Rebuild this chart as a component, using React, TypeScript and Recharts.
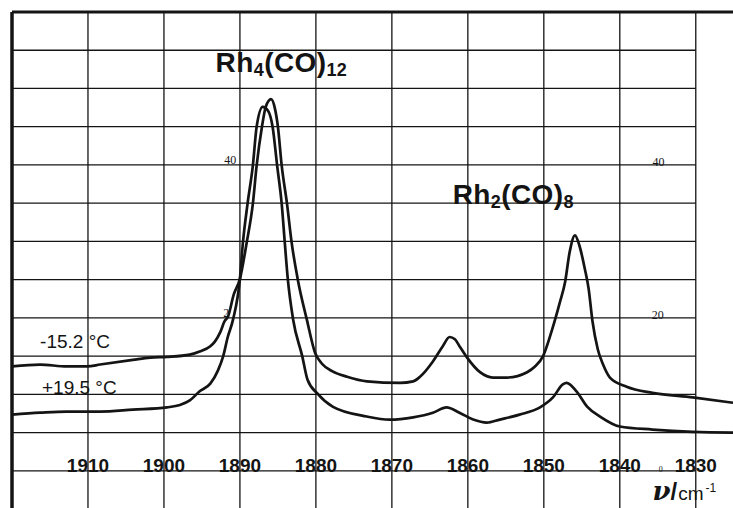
import { LineChart, Line, XAxis, YAxis, ReferenceLine, ReferenceDot } from "recharts";

// wavenumbers (cm-1) and absorbance-like scale readings, -15.2 °C trace
const coldWn = [
  1920, 1916.3, 1912.8, 1910.1, 1908.4, 1904.1, 1901.8, 1899.6, 1896.6, 1895.3, 1893.9, 1893.3, 1892.6,
  1892.0, 1891.6, 1890.8, 1890.0, 1889.1, 1888.3, 1887.8, 1887.1, 1886.6, 1885.9, 1885.4, 1885.0, 1884.5,
  1883.8, 1883.2, 1882.4, 1881.2, 1880.1, 1879.2, 1877.8, 1875.9, 1873.3, 1868.9, 1867.2, 1866.3, 1864.6,
  1863.3, 1862.4, 1861.7, 1861.1, 1860.1, 1858.4, 1856.7, 1854.9, 1852.2, 1851.2, 1850.1, 1848.9, 1847.9,
  1847.2, 1846.6, 1845.9, 1845.3, 1844.6, 1844.1, 1843.6, 1842.9, 1842.2, 1841.3, 1839.1, 1835.7, 1830.4,
  1825.1,
];
const coldVal = [
  13.65, 13.9, 13.65, 13.65, 13.9, 14.5, 14.8, 14.9, 15.2, 15.6, 16.3, 16.9, 18.1,
  19.6, 20.1, 23.1, 25.1, 29.9, 34.9, 39.9, 45.0, 47.6, 48.6, 47.4, 45.0, 39.9,
  34.9, 29.9, 25.1, 19.8, 15.4, 14.0, 13.0, 12.3, 11.7, 11.5, 11.7, 12.3, 14.3,
  16.3, 17.5, 17.2, 16.3, 14.8, 12.9, 12.2, 12.2, 12.9, 13.6, 15.0, 18.5, 22.0,
  24.7, 28.6, 30.8, 29.4, 26.4, 23.8, 19.6, 15.9, 13.9, 12.2, 11.0, 10.2, 9.6,
  8.9,
];

// +19.5 °C trace
const warmWn = [
  1920, 1916.3, 1912.8, 1908.4, 1904.1, 1899.6, 1897.9, 1896.6, 1895.3, 1893.9, 1892.9, 1892.2, 1891.6,
  1890.9, 1890.0, 1889.6, 1889.0, 1888.3, 1887.8, 1887.0, 1886.3, 1885.7, 1885.1, 1884.5, 1884.1, 1883.7,
  1883.0, 1881.8, 1881.1, 1879.7, 1877.8, 1873.3, 1870.3, 1867.2, 1864.6, 1862.8, 1861.1, 1859.3, 1857.5,
  1855.8, 1853.2, 1850.5, 1848.8, 1847.5, 1847.0, 1845.7, 1844.3, 1842.6, 1840.0, 1835.7, 1830.4, 1825.1,
];
const warmVal = [
  7.35, 7.6, 7.75, 7.75, 8.0, 8.3, 8.6, 9.2, 10.4, 11.4, 13.1, 15.0, 17.5,
  19.8, 25.1, 29.9, 34.9, 39.9, 45.0, 47.6, 47.1, 45.0, 39.9, 34.9, 29.9, 25.1,
  19.8, 15.0, 11.9, 10.0, 8.4, 7.1, 6.7, 7.0, 7.6, 8.3, 7.6, 6.7, 6.3,
  6.7, 7.35, 8.3, 9.6, 11.3, 11.5, 10.4, 8.4, 7.1, 5.8, 5.4, 5.1, 5.0,
];

const xTicks = [1910, 1900, 1890, 1880, 1870, 1860, 1850, 1840, 1830];
const yGrid = [0, 5, 10, 15, 20, 25, 30, 35, 40, 45, 50, 55];

const coldData = coldWn.map((wn, i) => ({ wn, v: coldVal[i] }));
const warmData = warmWn.map((wn, i) => ({ wn, v: warmVal[i] }));

const ink = "#141414";
const sans = "'Liberation Sans', Arial, Helvetica, sans-serif";

const Formula = ({ cx, cy, base, sub1, mid, sub2 }: any) => (
  <text x={cx} y={cy} fontFamily={sans} fontWeight="bold" fontSize={28} letterSpacing={0.4} fill={ink}>
    <tspan>{base}</tspan>
    <tspan fontSize={18} dy={4}>{sub1}</tspan>
    <tspan dy={-4}>{mid}</tspan>
    <tspan fontSize={18} dy={4}>{sub2}</tspan>
  </text>
);

const Small = ({ cx, cy, text, anchor = "start", size = 12 }: any) => (
  <text x={cx} y={cy} textAnchor={anchor} fontFamily="'Liberation Serif', serif" fontSize={size} fill={ink}>
    {text}
  </text>
);

export default function App() {
  return (
    <div style={{ position: "absolute", left: 0, top: 0, width: 733, height: 508, background: "#fff" }}>
      <LineChart width={733} height={508} margin={{ top: 12, right: 0, bottom: 0, left: 12 }}>
        <XAxis
          dataKey="wn"
          type="number"
          scale="linear"
          domain={[1825.1, 1920]}
          reversed
          allowDataOverflow
          hide
        />
        <YAxis type="number" scale="linear" domain={[-4.86, 60]} allowDataOverflow hide />

        {yGrid.map((v) => (
          <ReferenceLine
            key={`h${v}`}
            segment={[{ x: 1920, y: v }, { x: 1830, y: v }]}
            stroke={ink}
            strokeWidth={1.3}
          />
        ))}
        {xTicks.map((t) => (
          <ReferenceLine key={`v${t}`} x={t} stroke={ink} strokeWidth={1.3} />
        ))}
        <ReferenceLine y={60} stroke={ink} strokeWidth={3} />
        <ReferenceLine x={1920} stroke={ink} strokeWidth={3.5} />

        <Line data={coldData} dataKey="v" type="monotone" stroke={ink} strokeWidth={2.7} dot={false} isAnimationActive={false} />
        <Line data={warmData} dataKey="v" type="monotone" stroke={ink} strokeWidth={2.7} dot={false} isAnimationActive={false} />

        {xTicks.map((t) => (
          <ReferenceDot
            key={`l${t}`}
            x={t}
            y={0}
            r={0}
            shape={(p: any) => (
              <text x={p.cx} y={p.cy + 1} textAnchor="middle" fontFamily={sans} fontWeight="bold" fontSize={19} fill={ink}>
                {t}
              </text>
            )}
          />
        ))}

        <ReferenceDot x={1893.2} y={52.2} r={0} shape={(p: any) => <Formula cx={p.cx} cy={p.cy} base="Rh" sub1="4" mid="(CO)" sub2="12" />} />
        <ReferenceDot x={1862.0} y={34.9} r={0} shape={(p: any) => <Formula cx={p.cx} cy={p.cy} base="Rh" sub1="2" mid="(CO)" sub2="8" />} />

        <ReferenceDot
          x={1916.3}
          y={16.1}
          r={0}
          shape={(p: any) => (
            <text x={p.cx} y={p.cy} fontFamily={sans} fontSize={19} fill={ink}>
              -15.2 °C
            </text>
          )}
        />
        <ReferenceDot
          x={1916.05}
          y={10.1}
          r={0}
          shape={(p: any) => (
            <text x={p.cx} y={p.cy} fontFamily={sans} fontSize={19} fill={ink}>
              +19.5 °C
            </text>
          )}
        />

        <ReferenceDot x={1890.5} y={40.1} r={0} shape={(p: any) => <Small cx={p.cx} cy={p.cy} text="40" anchor="end" />} />
        <ReferenceDot x={1835.7} y={39.9} r={0} shape={(p: any) => <Small cx={p.cx} cy={p.cy} text="40" />} />
        <ReferenceDot x={1892.2} y={20.1} r={0} shape={(p: any) => <Small cx={p.cx} cy={p.cy} text="2" />} />
        <ReferenceDot x={1835.8} y={19.8} r={0} shape={(p: any) => <Small cx={p.cx} cy={p.cy} text="20" />} />
        <ReferenceDot x={1834.6} y={-0.1} r={0} shape={(p: any) => <Small cx={p.cx} cy={p.cy} text="0" anchor="middle" size={8} />} />

        <ReferenceDot
          x={1835.7}
          y={-3.8}
          r={0}
          shape={(p: any) => (
            <text x={p.cx} y={p.cy} fill={ink}>
              <tspan fontFamily="'DejaVu Serif', serif" fontStyle="italic" fontWeight="bold" fontSize={26}>ν</tspan>
              <tspan fontFamily={sans} fontWeight="bold" fontSize={24}>/</tspan>
              <tspan fontFamily={sans} fontSize={19} dx={1}>cm</tspan>
              <tspan fontFamily={sans} fontSize={12} dx={2} dy={-8}>-1</tspan>
            </text>
          )}
        />
      </LineChart>
    </div>
  );
}
